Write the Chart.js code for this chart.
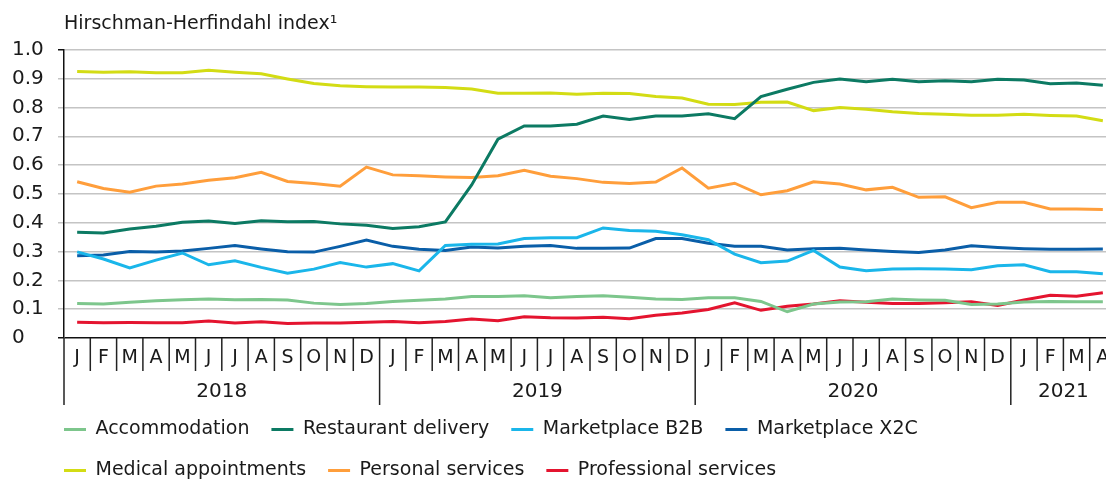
<!DOCTYPE html>
<html>
<head>
<meta charset="utf-8">
<script src="https://cdn.jsdelivr.net/npm/chart.js@4.4.1/dist/chart.umd.min.js"></script>
<style>
  html, body { margin: 0; padding: 0; background: #fff; overflow: hidden; }
  #chart { display: block; }
</style>
</head>
<body>
<canvas id="chart" width="1130" height="490" style="width:1130px;height:490px"></canvas>
<script>
// Monthly labels, Jan 2018 - Apr 2021
const monthLetters = ['J','F','M','A','M','J','J','A','S','O','N','D',
                      'J','F','M','A','M','J','J','A','S','O','N','D',
                      'J','F','M','A','M','J','J','A','S','O','N','D',
                      'J','F','M','A'];
const years = ['2018', '2019', '2020', '2021'];
const yTicks = [0, 0.1, 0.2, 0.3, 0.4, 0.5, 0.6, 0.7, 0.8, 0.9, 1.0];

const accommodation = [0.120, 0.118, 0.124, 0.129, 0.133, 0.135, 0.133, 0.134, 0.132, 0.121, 0.116, 0.120,
                       0.127, 0.131, 0.135, 0.144, 0.144, 0.147, 0.140, 0.144, 0.147, 0.141, 0.135, 0.134,
                       0.140, 0.140, 0.127, 0.091, 0.118, 0.125, 0.126, 0.135, 0.132, 0.131, 0.116, 0.118,
                       0.125, 0.127, 0.126, 0.126];
const restaurantDelivery = [0.367, 0.364, 0.378, 0.388, 0.402, 0.406, 0.397, 0.407, 0.403, 0.404, 0.396, 0.391,
                            0.380, 0.386, 0.403, 0.531, 0.690, 0.736, 0.736, 0.742, 0.770, 0.758, 0.770, 0.770,
                            0.778, 0.761, 0.838, 0.863, 0.887, 0.899, 0.889, 0.898, 0.889, 0.893, 0.889, 0.898,
                            0.895, 0.882, 0.885, 0.877];
const marketplaceB2B = [0.299, 0.274, 0.243, 0.270, 0.295, 0.254, 0.268, 0.245, 0.225, 0.239, 0.262, 0.246,
                        0.258, 0.233, 0.321, 0.325, 0.326, 0.345, 0.348, 0.348, 0.382, 0.373, 0.370, 0.358,
                        0.341, 0.291, 0.261, 0.267, 0.304, 0.246, 0.233, 0.239, 0.240, 0.239, 0.237, 0.251,
                        0.254, 0.230, 0.230, 0.223];
const marketplaceX2C = [0.285, 0.288, 0.300, 0.298, 0.302, 0.311, 0.321, 0.309, 0.299, 0.298, 0.318, 0.340,
                        0.318, 0.308, 0.304, 0.316, 0.312, 0.318, 0.321, 0.311, 0.311, 0.312, 0.345, 0.345,
                        0.329, 0.318, 0.318, 0.305, 0.310, 0.311, 0.305, 0.300, 0.297, 0.305, 0.320, 0.314,
                        0.310, 0.308, 0.308, 0.309];
const medicalAppointments = [0.925, 0.922, 0.924, 0.920, 0.920, 0.929, 0.922, 0.917, 0.899, 0.883, 0.875, 0.872,
                             0.871, 0.871, 0.869, 0.864, 0.849, 0.849, 0.850, 0.846, 0.849, 0.848, 0.838, 0.833,
                             0.811, 0.810, 0.818, 0.819, 0.789, 0.800, 0.794, 0.785, 0.779, 0.776, 0.773, 0.773,
                             0.776, 0.772, 0.770, 0.754];
const personalServices = [0.542, 0.519, 0.506, 0.527, 0.534, 0.547, 0.556, 0.575, 0.543, 0.536, 0.527, 0.593,
                          0.566, 0.563, 0.559, 0.557, 0.563, 0.582, 0.561, 0.553, 0.540, 0.536, 0.541, 0.590,
                          0.520, 0.537, 0.497, 0.511, 0.542, 0.534, 0.514, 0.523, 0.488, 0.490, 0.452, 0.471,
                          0.471, 0.448, 0.448, 0.446];
const professionalServices = [0.055, 0.053, 0.054, 0.053, 0.053, 0.059, 0.052, 0.056, 0.050, 0.052, 0.052, 0.055,
                              0.057, 0.053, 0.057, 0.066, 0.060, 0.074, 0.070, 0.069, 0.072, 0.067, 0.079, 0.087,
                              0.099, 0.122, 0.096, 0.110, 0.118, 0.129, 0.124, 0.120, 0.120, 0.122, 0.126, 0.113,
                              0.132, 0.148, 0.145, 0.157];

const FONT = '"DejaVu Sans", sans-serif';
const TEXT = '#1a1a1a';

function line(label, data, color) {
    return {
        label: label,
        data: data,
        borderColor: color,
        backgroundColor: color,
        borderWidth: 3,
        pointRadius: 0,
        tension: 0,
        fill: false
    };
}

// Month letters in boxes and year row underneath, drawn from the x scale
const monthAxis = {
    id: 'monthAxis',
    afterLayout(chart) {
        // legend starts flush with the plot area
        const lg = chart.legend;
        lg.left -= 22;
        lg.right -= 22;
    },
    afterDraw(chart) {
        const ctx = chart.ctx;
        const x = chart.scales.x;
        const top = chart.chartArea.bottom;
        const half = (x.getPixelForValue(1) - x.getPixelForValue(0)) / 2;
        ctx.save();
        ctx.strokeStyle = '#222';
        ctx.lineWidth = 1.5;
        ctx.fillStyle = TEXT;
        ctx.font = '19px ' + FONT;
        ctx.textAlign = 'center';
        ctx.textBaseline = 'middle';
        monthLetters.forEach((m, i) => {
            const cx = x.getPixelForValue(i);
            const left = cx - half;
            ctx.beginPath();
            ctx.moveTo(left, top);
            ctx.lineTo(left, top + (i % 12 === 0 ? 67 : 33));
            ctx.stroke();
            ctx.fillText(m, cx, top + 20);
        });
        ctx.font = '20px ' + FONT;
        years.forEach((yr, k) => {
            const first = k * 12;
            const last = Math.min(first + 11, monthLetters.length - 1);
            const cx = (x.getPixelForValue(first) + x.getPixelForValue(last)) / 2;
            ctx.fillText(yr, cx, top + 54);
        });
        ctx.restore();
    }
};

new Chart(document.getElementById('chart'), {
    type: 'line',
    data: {
        labels: monthLetters,
        datasets: [
            line('Accommodation', accommodation, '#7dc68c'),
            line('Restaurant delivery', restaurantDelivery, '#0c7a63'),
            line('Marketplace B2B', marketplaceB2B, '#1ab6ea'),
            line('Marketplace X2C', marketplaceX2C, '#0a5ea8'),
            line('Medical appointments', medicalAppointments, '#d3dc14'),
            line('Personal services', personalServices, '#ff9e3b'),
            line('Professional services', professionalServices, '#e4142f')
        ]
    },
    options: {
        responsive: false,
        animation: false,
        layout: { padding: { left: 12, right: 14, top: 0, bottom: 0 } },
        scales: {
            x: {
                type: 'category',
                offset: true,
                grid: { display: false },
                border: { display: false },
                ticks: { display: false },
                afterFit: s => { s.height = 60; }
            },
            y: {
                min: 0,
                max: 1,
                afterBuildTicks: s => { s.ticks = yTicks.map(v => ({ value: v })); },
                afterFit: s => { s.width = 52; },
                border: { color: '#111', width: 1.5 },
                grid: {
                    color: c => (c.tick && c.tick.value === 0) ? '#111' : '#c4c4c4',
                    tickColor: c => (c.tick && (c.tick.value === 0 || c.tick.value === 1)) ? '#111' : '#c4c4c4',
                    lineWidth: 1.5,
                    tickLength: 6
                },
                ticks: {
                    crossAlign: 'far',
                    color: TEXT,
                    font: { family: FONT, size: 20 },
                    callback: v => v === 0 ? '0' : v.toFixed(1)
                }
            }
        },
        plugins: {
            title: {
                display: true,
                text: 'Hirschman-Herfindahl index\u00b9',
                align: 'start',
                fullSize: false,
                color: TEXT,
                font: { family: FONT, size: 19, weight: 'normal' },
                padding: { top: 13, bottom: 14 }
            },
            legend: {
                position: 'bottom',
                align: 'start',
                fullSize: false,
                labels: {
                    color: TEXT,
                    font: { family: FONT, size: 19 },
                    usePointStyle: true,
                    pointStyle: 'line',
                    pointStyleWidth: 22,
                    padding: 22
                }
            },
            tooltip: { enabled: false }
        }
    },
    plugins: [monthAxis]
});
</script>
</body>
</html>
